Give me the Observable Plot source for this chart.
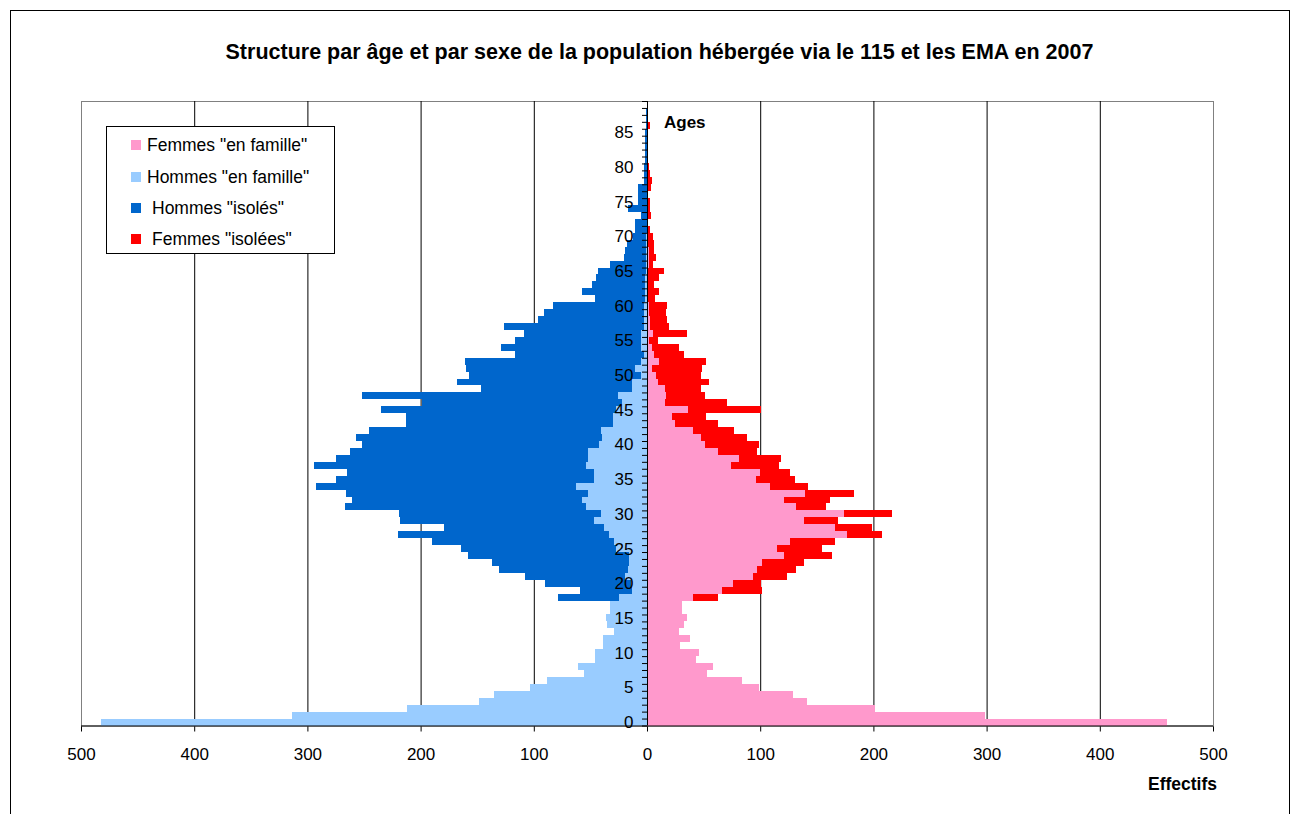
<!DOCTYPE html>
<html>
<head>
<meta charset="utf-8">
<script src="https://cdn.jsdelivr.net/npm/d3@7"></script>
<script src="https://cdn.jsdelivr.net/npm/@observablehq/plot@0.6"></script>
<style>
  body { margin: 0; width: 1297px; height: 814px; overflow: hidden; position: relative; background: #fff;
         font-family: "Liberation Sans", Arial, sans-serif; color: #000; }
  .abs { position: absolute; }
  #outer { left: 10px; top: 10px; width: 1280px; height: 830px; border: 1px solid #000; box-sizing: border-box; }
  #title { left: 0; width: 1319px; top: 40px; text-align: center; font-weight: bold; font-size: 21.5px; line-height: 24px; white-space: nowrap; }
  #chart { left: 0; top: 0; }
  #legend { left: 106px; top: 126px; width: 229px; height: 128px; border: 1px solid #000; box-sizing: border-box; background: #fff; }
  .lg { position: absolute; font-size: 17.5px; line-height: 20px; white-space: nowrap; }
  .sw { position: absolute; width: 10px; height: 10px; }
  #ages { left: 664px; top: 113px; font-weight: bold; font-size: 17px; line-height: 20px; }
  #eff { left: 1148px; top: 774px; font-weight: bold; font-size: 17.5px; line-height: 20px; }
</style>
</head>
<body>
<div id="outer" class="abs"></div>
<div id="chart" class="abs"></div>
<div id="title" class="abs">Structure par âge et par sexe de la population hébergée via le 115 et les EMA en 2007</div>
<div id="ages" class="abs">Ages</div>
<div id="eff" class="abs">Effectifs</div>
<div id="legend" class="abs"></div>
<script>
// ---- Data ----
const ages = d3.range(0, 90);
const yTicks = [0, 5, 10, 15, 20, 25, 30, 35, 40, 45, 50, 55, 60, 65, 70, 75, 80, 85];
const xTicks = [-500, -400, -300, -200, -100, 0, 100, 200, 300, 400, 500];
const gridValues = [-400, -300, -200, -100, 100, 200, 300, 400];

const seriesNames = ['Femmes "en famille"', 'Hommes "en famille"', 'Hommes "isolés"', 'Femmes "isolées"'];
const seriesColors = ["#FF99CC", "#99CCFF", "#0066CC", "#FF0000"];

const hommesFamille = [
  482,314,212,148,135,103,88,56,61,46,
  46,39,39,29,35,36,33,33,25,13,
  14,19,17,16,16,27,29,34,38,47,
  41,54,57,52,63,47,47,54,52,52,
  42,40,41,30,30,27,22,26,13,13,
  5,11,5,3,5,5,5,3,3,3,
  3,2,2,2,2,1,1,1,1,1,
  1,0,0,0,0,0,0,0,0,0,
  0,0,0,0,0,0,0,0,0,0];
const hommesIsoles = [
  0,0,0,0,0,0,0,0,0,0,
  0,0,0,0,0,0,0,0,54,46,
  76,89,114,121,142,137,161,186,141,171,
  178,213,204,214,229,228,218,240,223,210,
  210,217,205,183,183,208,177,226,134,155,
  152,149,156,114,124,112,104,123,93,88,
  80,44,55,47,43,42,32,19,18,17,
  11,11,11,5,17,8,8,8,3,3,
  3,1.5,1.5,1.5,1.5,1.5,1,1,1,0];
const femmesFamille = [
  459,299,201,141,129,99,84,53,58,43,
  46,29,38,28,33,35,31,31,41,66,
  76,94,97,102,121,115,126,177,166,139,
  174,132,121,140,109,96,100,74,81,63,
  51,48,41,25,22,36,16,17,16,10,
  8,4,11,6,4,2,5,3,3,2,
  2,1,1,1,1,1,2,2,2,1,
  0,0,0,0,0,0,0,0,0,0,
  0,0,0,0,0,0,0,0,0,0];
const femmesIsolees = [
  0,0,0,0,0,0,0,0,0,0,
  0,0,0,0,0,0,0,0,22,36,
  25,30,35,37,42,40,40,31,33,30,
  42,26,41,43,33,35,26,43,37,34,
  48,40,36,38,30,65,55,34,32,45,
  40,45,41,27,24,8,30,16,15,15,
  16,6,10,5,10,14,3,6,4,5,
  5,3,1,3.5,2.4,2.4,0,3.5,4.4,2.4,
  2,0,0,0,0,0,2.4,0,0,0];

// ---- Table for the rect mark (stacked outward from 0) ----
const rows = [];
ages.forEach((a, i) => {
  const hf = hommesFamille[i], hi = hommesIsoles[i], ff = femmesFamille[i], fi = femmesIsolees[i];
  rows.push({age: a, series: seriesNames[1], x1: -hf, x2: 0});
  rows.push({age: a, series: seriesNames[2], x1: -(hf + hi), x2: -hf});
  rows.push({age: a, series: seriesNames[0], x1: 0, x2: ff});
  rows.push({age: a, series: seriesNames[3], x1: ff, x2: ff + fi});
});
const boundaries = ages.map(a => a - 0.5).concat([ages[ages.length - 1] + 0.5]);

const W = 1297, H = 814, mL = 81, mR = 84, mT = 101, mB = 88.5;
const pxPerUnit = (W - mL - mR) / 1000;

const chart = Plot.plot({
  width: W, height: H,
  marginLeft: mL, marginRight: mR, marginTop: mT, marginBottom: mB,
  style: {fontFamily: '"Liberation Sans", Arial, sans-serif', fontSize: "17px", color: "#000", background: "transparent"},
  x: {domain: [-500, 500], ticks: xTicks, tickFormat: d => Math.abs(d), tickSize: 6, tickPadding: 16, label: null},
  y: {domain: [-0.5, 89.5], axis: null},
  color: {domain: seriesNames, range: seriesColors},
  marks: [
    Plot.frame({stroke: "#808080"}),
    Plot.ruleX(gridValues, {stroke: "#000", strokeWidth: 1}),
    Plot.rect(rows, {x1: "x1", x2: "x2", y1: d => d.age - 0.5, y2: d => d.age + 0.5, fill: "series", shapeRendering: "crispEdges"}),
    Plot.ruleX([0], {stroke: "#000"}),
    Plot.ruleY(boundaries, {y: d => d, x1: -5 / pxPerUnit, x2: 0, stroke: "#000"}),
    Plot.text(yTicks, {x: 0, y: d => d, text: d => String(d), textAnchor: "end", dx: -14, fontSize: 17, fill: "#000"}),
    Plot.ruleY([-0.5], {stroke: "#000"})
  ]
});
document.getElementById("chart").appendChild(chart);

// ---- Legend ----
const legend = document.getElementById("legend");
const legendTop = [8, 40, 71, 102];
const legendTextLeft = [40, 40, 45, 45];
seriesNames.forEach((name, i) => {
  const sw = document.createElement("div");
  sw.className = "sw";
  sw.style.left = "24px";
  sw.style.top = (legendTop[i] + 5) + "px";
  sw.style.background = seriesColors[i];
  legend.appendChild(sw);
  const t = document.createElement("div");
  t.className = "lg";
  t.style.left = legendTextLeft[i] + "px";
  t.style.top = legendTop[i] + "px";
  t.textContent = name;
  legend.appendChild(t);
});
</script>
</body>
</html>
